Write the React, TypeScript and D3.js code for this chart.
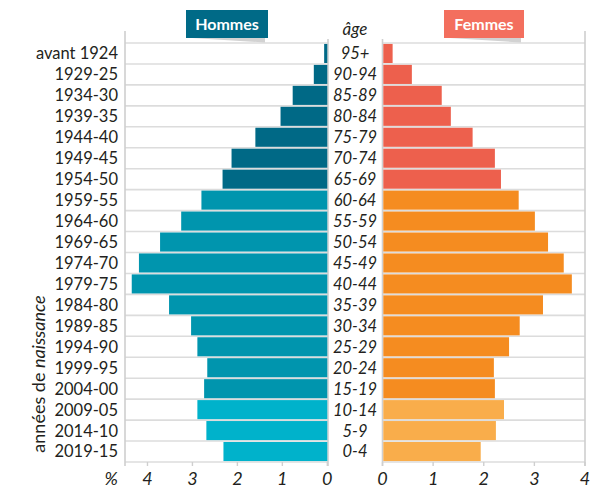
import React, { useRef, useEffect } from 'react';
import * as d3 from 'd3';

const birthYears = [
  'avant 1924', '1929-25', '1934-30', '1939-35', '1944-40', '1949-45', '1954-50',
  '1959-55', '1964-60', '1969-65', '1974-70', '1979-75', '1984-80', '1989-85',
  '1994-90', '1999-95', '2004-00', '2009-05', '2014-10', '2019-15',
];
const ages = [
  '95+', '90-94', '85-89', '80-84', '75-79', '70-74', '65-69', '60-64', '55-59', '50-54',
  '45-49', '40-44', '35-39', '30-34', '25-29', '20-24', '15-19', '10-14', '5-9', '0-4',
];
const hommes = [
  0.07, 0.3, 0.77, 1.04, 1.6, 2.13, 2.33, 2.8, 3.25, 3.72,
  4.19, 4.35, 3.52, 3.03, 2.89, 2.67, 2.74, 2.89, 2.69, 2.31,
];
const femmes = [
  0.2, 0.58, 1.17, 1.35, 1.78, 2.22, 2.34, 2.69, 3.01, 3.27,
  3.58, 3.74, 3.17, 2.71, 2.5, 2.2, 2.22, 2.4, 2.24, 1.94,
];
const ticksH = [4, 3, 2, 1, 0];
const ticksF = [0, 1, 2, 3, 4];

// colour group per row: 0 = plus de 65 ans, 1 = 15-64, 2 = moins de 15
const group = (i: number) => (i < 7 ? 0 : i < 17 ? 1 : 2);
const colH = ['#006986', '#0095ae', '#00b2cb'];
const colF = ['#ed604d', '#f58c20', '#f9ad4b'];

const FONT = 'Lato, "Open Sans", sans-serif';

const App: React.FC = () => {
  const svgRef = useRef<SVGSVGElement>(null);

  useEffect(() => {
    if (!svgRef.current) return;
    const svg = d3.select(svgRef.current);
    svg.selectAll('*').remove();

    const top = 43;
    const bottom = 462;
    const left = { x0: 125, x1: 328 };
    const right = { x0: 382.5, x1: 585 };
    const mid = 355;

    const y = d3.scaleBand<string>().domain(birthYears).range([top, bottom]).paddingInner(0.09).paddingOuter(0.045);
    const xH = d3.scaleLinear().domain([0, 4.5]).range([left.x1 - 0.7, left.x0]);
    const xF = d3.scaleLinear().domain([0, 4]).range([right.x0, right.x1]);
    const step = y.step();

    const g = svg.append('g').attr('font-family', FONT);

    // horizontal grid lines between rows
    const lines = d3.range(0, birthYears.length + 1).map((i) => top + i * step);
    [left, right].forEach((p) => {
      g.selectAll(null)
        .data(lines)
        .enter()
        .append('line')
        .attr('x1', p.x0)
        .attr('x2', p.x1)
        .attr('y1', (d) => d)
        .attr('y2', (d) => d)
        .attr('stroke', '#dcdcdc')
        .attr('stroke-width', 1.6);
    });

    // panel borders
    const border = (x: number, y1: number) =>
      g.append('line').attr('x1', x).attr('x2', x).attr('y1', y1).attr('y2', bottom + 4)
        .attr('stroke', '#cfcfcf').attr('stroke-width', 1.6);
    border(left.x0, 31);
    border(left.x1, 39);
    border(right.x0, 39);
    border(right.x1, 31);

    // bars
    g.selectAll(null)
      .data(hommes)
      .enter()
      .append('rect')
      .attr('x', (d) => xH(d))
      .attr('y', (_, i) => y(birthYears[i])!)
      .attr('width', (d) => xH(0) - xH(d))
      .attr('height', y.bandwidth())
      .attr('fill', (_, i) => colH[group(i)]);

    g.selectAll(null)
      .data(femmes)
      .enter()
      .append('rect')
      .attr('x', xF(0) + 0.8)
      .attr('y', (_, i) => y(birthYears[i])!)
      .attr('width', (d) => xF(d) - xF(0) - 0.8)
      .attr('height', y.bandwidth())
      .attr('fill', (_, i) => colF[group(i)]);

    // row labels
    g.selectAll(null)
      .data(birthYears)
      .enter()
      .append('text')
      .attr('x', 118)
      .attr('y', (d) => y(d)! + y.bandwidth() / 2)
      .attr('dy', '0.36em')
      .attr('text-anchor', 'end')
      .attr('font-size', 16.5)
      .attr('fill', '#231f20')
      .text((d) => d);

    g.selectAll(null)
      .data(ages)
      .enter()
      .append('text')
      .attr('x', mid)
      .attr('y', (_, i) => y(birthYears[i])! + y.bandwidth() / 2)
      .attr('dy', '0.36em')
      .attr('text-anchor', 'middle')
      .attr('font-size', 16.5)
      .attr('font-style', 'italic')
      .attr('fill', '#231f20')
      .text((d) => d);

    g.append('text')
      .attr('x', mid)
      .attr('y', 35)
      .attr('text-anchor', 'middle')
      .attr('font-size', 17)
      .attr('font-style', 'italic')
      .attr('fill', '#231f20')
      .text('âge');

    // axes
    const tickG = (scale: d3.ScaleLinear<number, number>, ticks: number[]) => {
      g.selectAll(null)
        .data(ticks)
        .enter()
        .append('line')
        .attr('x1', (d) => scale(d))
        .attr('x2', (d) => scale(d))
        .attr('y1', bottom)
        .attr('y2', bottom + 4)
        .attr('stroke', '#cfcfcf')
        .attr('stroke-width', 1.4);
      g.selectAll(null)
        .data(ticks)
        .enter()
        .append('text')
        .attr('x', (d) => scale(d))
        .attr('y', 485)
        .attr('text-anchor', 'middle')
        .attr('font-size', 18)
        .attr('font-style', 'italic')
        .attr('fill', '#231f20')
        .text((d) => d);
    };
    tickG(xH, ticksH);
    tickG(xF, ticksF);

    g.append('text')
      .attr('x', 118)
      .attr('y', 485)
      .attr('text-anchor', 'end')
      .attr('font-size', 18)
      .attr('font-style', 'italic')
      .attr('fill', '#231f20')
      .text('%');

    // rotated axis title
    const rt = g.append('text')
      .attr('transform', `translate(45,${374}) rotate(-90)`)
      .attr('text-anchor', 'middle')
      .attr('font-size', 18)
      .attr('fill', '#231f20');
    rt.append('tspan').text('années de ');
    rt.append('tspan').attr('font-style', 'italic').text('naissance');

    // header tags
    const tag = (x: number, w: number, fill: string, label: string) => {
      g.append('polygon')
        .attr('points', `${x + 6},38 ${x + w - 3},38 ${x + w - 3},42.5`)
        .attr('fill', '#d2d2d2');
      g.append('rect').attr('x', x).attr('y', 10).attr('width', w).attr('height', 28).attr('fill', fill);
      g.append('text')
        .attr('x', x + w / 2)
        .attr('y', 24)
        .attr('dy', '0.36em')
        .attr('text-anchor', 'middle')
        .attr('font-size', 16)
        .attr('font-weight', 'bold')
        .attr('fill', '#ffffff')
        .text(label);
    };
    tag(186, 82, '#006a87', 'Hommes');
    tag(444, 80, '#f36f5e', 'Femmes');
  }, []);

  return (
    <svg
      ref={svgRef}
      width={611}
      height={490}
      style={{ position: 'absolute', left: 0, top: 0, background: '#fff' }}
    />
  );
};

export default App;
